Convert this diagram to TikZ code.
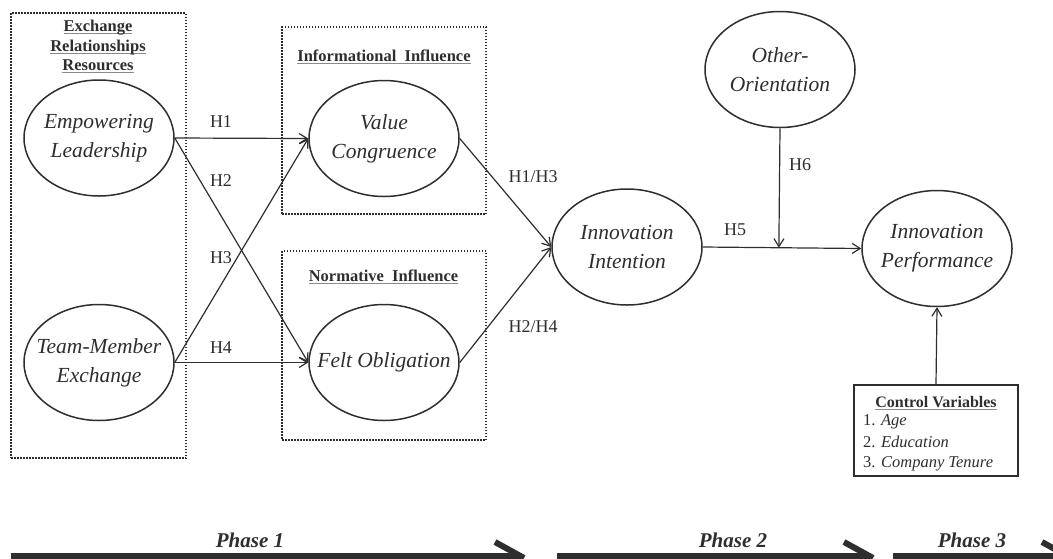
\documentclass[tikz,border=0pt]{standalone}
\usepackage{fontspec}
\setmainfont{Liberation Serif}
\usetikzlibrary{shapes.geometric,arrows.meta,calc}
\definecolor{ink}{HTML}{2E2E2E}
\definecolor{ulgray}{HTML}{8A8A8A}
\newcommand{\myul}[1]{\sbox0{#1}\rlap{\color{ulgray}\rule[-2.8pt]{\wd0}{1.1pt}}\usebox0}
\begin{document}
\begin{tikzpicture}[x=1pt,y=-1pt,
  construct/.style={ellipse, draw=ink, line width=1.5pt, minimum width=150pt, minimum height=116pt, inner sep=0pt},
  ctext/.style={font=\fontsize{21.5}{29}\selectfont\itshape, align=center, text=ink},
  grp/.style={draw=ink, line width=1.6pt, dash pattern=on 1.5pt off 1.5pt, inner sep=0pt},
  conn/.style={draw=ink, line width=1.2pt, -{Straight Barb[length=8pt,width=10pt,line width=1.2pt]}},
  hlab/.style={font=\fontsize{18}{18}\selectfont, text=ink, inner sep=0pt},
  ttl/.style={font=\fontsize{16.5}{19.5}\selectfont\bfseries, text=ink, inner sep=0pt, anchor=base},
  cvitem/.style={font=\fontsize{16.5}{19.5}\selectfont, text=ink, inner sep=0pt, anchor=base west},
  phase/.style={font=\fontsize{21}{21}\selectfont\bfseries\itshape, text=ink, inner sep=0pt},
  bar/.style={draw=ink, line width=5.5pt},
  hook/.style={draw=ink, line width=6pt}
]
\useasboundingbox (0,0) rectangle (1053,558);

% group boxes
\node[grp, minimum width=175pt, minimum height=445pt] (exbox) at (98.5,235.5) {};
\node[grp, minimum width=204pt, minimum height=187pt] (infobox) at (384,120.5) {};
\node[grp, minimum width=204pt, minimum height=189pt] (normbox) at (384,345.5) {};

% titles
\node[ttl] (t1) at (98,31.5) {\myul{Exchange}};
\node[ttl] (t2) at (98,51) {\myul{Relationships}};
\node[ttl] (t3) at (98,70.5) {\myul{Resources}};
\node[ttl] (t4) at (384,61) {\myul{Informational\ \ Influence}};
\node[ttl] (t5) at (383.5,281.5) {\myul{Normative\ \ Influence}};

% constructs
\node[construct, label={[ctext]center:Empowering\\Leadership}] (el) at (99,138) {};
\node[construct, label={[ctext]center:Team-Member\\Exchange}] (tme) at (99,362.5) {};
\node[construct, label={[ctext]center:Value\\Congruence}] (vc) at (384,138.5) {};
\node[construct, label={[ctext]center:Felt Obligation}] (fo) at (384,362.5) {};
\node[construct, label={[ctext]center:Innovation\\Intention}] (ii) at (627,247) {};
\node[construct, label={[ctext]center:Other-\\Orientation}] (oo) at (780,69.5) {};
\node[construct, label={[ctext]center:Innovation\\Performance}] (ip) at (937,248.5) {};

% control variables
\node[draw=ink, line width=1.2pt, minimum width=164pt, minimum height=91pt, inner sep=0pt] (cv) at (936,430.5) {};
\node[ttl, font=\fontsize{16}{19}\selectfont\bfseries] (cvt) at (936,407) {\myul{Control Variables}};
\node[cvitem] (cv1) at (863,425) {1. \textit{Age}};
\node[cvitem] (cv2) at (863,447) {2. \textit{Education}};
\node[cvitem] (cv3) at (863,467.5) {3. \textit{Company Tenure}};

% connectors
\draw[conn] (el.east) -- (vc.west);
\draw[conn] (el.east) -- (fo.west);
\draw[conn] (tme.east) -- (vc.west);
\draw[conn] (tme.east) -- (fo.west);
\draw[conn] (vc.east) -- (ii.west);
\draw[conn] (fo.east) -- (ii.west);
\draw[conn] (ii.east) -- (ip.west);
\coordinate (mod) at ($(ii.east)!(oo.south)!(ip.west)$);
\draw[conn] (oo.south) -- (mod);
\draw[conn] (cv.north) -- (ip.south);

% hypothesis labels
\node[hlab] (h1) at (221,122) {H1};
\node[hlab] (h2) at (221,181) {H2};
\node[hlab] (h3) at (221,258) {H3};
\node[hlab] (h4) at (221,348) {H4};
\node[hlab] (h13) at (533,177) {H1/H3};
\node[hlab] (h24) at (533,327) {H2/H4};
\node[hlab] (h5) at (735,230) {H5};
\node[hlab] (h6) at (800,165) {H6};

% phases
\node[phase] (p1) at (250,540) {Phase 1};
\node[phase] (p2) at (733,540) {Phase 2};
\node[phase] (p3) at (972,540) {Phase 3};
\draw[bar] (11,556) -- (522,556);
\draw[hook] (495,542) -- (524,558);
\draw[bar] (557,556) -- (871,556);
\draw[hook] (844,542) -- (873,558);
\draw[bar] (893,556) -- (1060,556);
\draw[hook] (1042,542) -- (1071,558);
\end{tikzpicture}
\end{document}
